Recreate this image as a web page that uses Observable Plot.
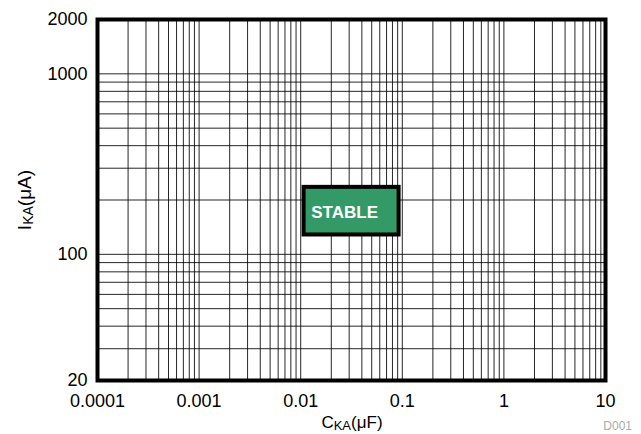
<!DOCTYPE html>
<html><head><meta charset="utf-8">
<script src="https://cdn.jsdelivr.net/npm/d3@7"></script>
<script src="https://cdn.jsdelivr.net/npm/@observablehq/plot@0.6"></script>
<style>body{margin:0;background:#fff} svg{display:block}</style>
</head><body><div id="chart"></div>
<script>
const xTicks = [0.0001, 0.001, 0.01, 0.1, 1, 10];
const xTickLabels = ["0.0001", "0.001", "0.01", "0.1", "1", "10"];
const yTicks = [20, 100, 1000, 2000];
const yTickLabels = ["20", "100", "1000", "2000"];
const xGrid = [
  0.0002,0.0003,0.0004,0.0005,0.0006,0.0007,0.0008,0.0009,
  0.001,0.002,0.003,0.004,0.005,0.006,0.007,0.008,0.009,
  0.01,0.02,0.03,0.04,0.05,0.06,0.07,0.08,0.09,
  0.1,0.2,0.3,0.4,0.5,0.6,0.7,0.8,0.9,
  1,2,3,4,5,6,7,8,9
];
const yGrid = [30,40,50,60,70,80,90,100,200,300,400,500,600,700,800,900,1000];
const regionX = [0.0108, 0.093];
const regionY = [128, 235];
const regionLabel = "STABLE";
const regionLabelPos = [0.0127, 171];

const region = [{x1: regionX[0], x2: regionX[1], y1: regionY[0], y2: regionY[1], lx: regionLabelPos[0], ly: regionLabelPos[1], label: regionLabel}];

const ff = "'Liberation Sans', Arial, sans-serif";
const plot = Plot.plot({
  width: 641, height: 434,
  marginLeft: 97, marginRight: 36, marginTop: 19, marginBottom: 54,
  style: {fontFamily: ff, fontSize: "18px", color: "#000", background: "#fff"},
  x: {type: "log", domain: [0.0001, 10]},
  y: {type: "log", domain: [20, 2000]},
  marks: [
    Plot.ruleX(xGrid, {stroke: "#000", strokeWidth: 1, strokeOpacity: 0.85}),
    Plot.ruleY(yGrid, {stroke: "#000", strokeWidth: 1, strokeOpacity: 0.85}),
    Plot.rect(region, {x1: "x1", x2: "x2", y1: "y1", y2: "y2", fill: "#339966", stroke: "#000", strokeWidth: 4}),
    Plot.text(region, {x: "lx", y: "ly", text: "label", fill: "#fff", fontWeight: "bold", fontSize: 17, textAnchor: "start", lineAnchor: "middle"}),
    Plot.frame({stroke: "#000", strokeWidth: 4}),
    Plot.axisX(xTicks, {tickSize: 0, tickPadding: 14, fontSize: 18, tickFormat: d => xTickLabels[xTicks.indexOf(d)], label: null}),
    Plot.axisY(yTicks, {tickSize: 0, tickPadding: 10, fontSize: 18, tickFormat: d => yTickLabels[yTicks.indexOf(d)], label: null})
  ]
});

const svg = d3.select(plot);
const xl = svg.append("text").attr("x", 352).attr("y", 428).attr("text-anchor", "middle")
  .attr("font-family", ff).attr("font-size", 17).attr("fill", "#000");
xl.append("tspan").text("C");
xl.append("tspan").attr("font-size", 13).attr("dy", 2).text("KA");
xl.append("tspan").attr("dy", -2).text("(\u03BCF)");

const yl = svg.append("text").attr("transform", "translate(31,200) rotate(-90)").attr("text-anchor", "middle")
  .attr("font-family", ff).attr("font-size", 19).attr("fill", "#000");
yl.append("tspan").text("I");
yl.append("tspan").attr("font-size", 14).attr("dy", 2).text("KA");
yl.append("tspan").attr("dy", -2).text("(\u03BCA)");

svg.append("text").attr("x", 632).attr("y", 430).attr("text-anchor", "end")
  .attr("font-family", ff).attr("font-size", 12).attr("fill", "#aaa").text("D001");

document.getElementById("chart").appendChild(plot);
</script>
</body></html>
